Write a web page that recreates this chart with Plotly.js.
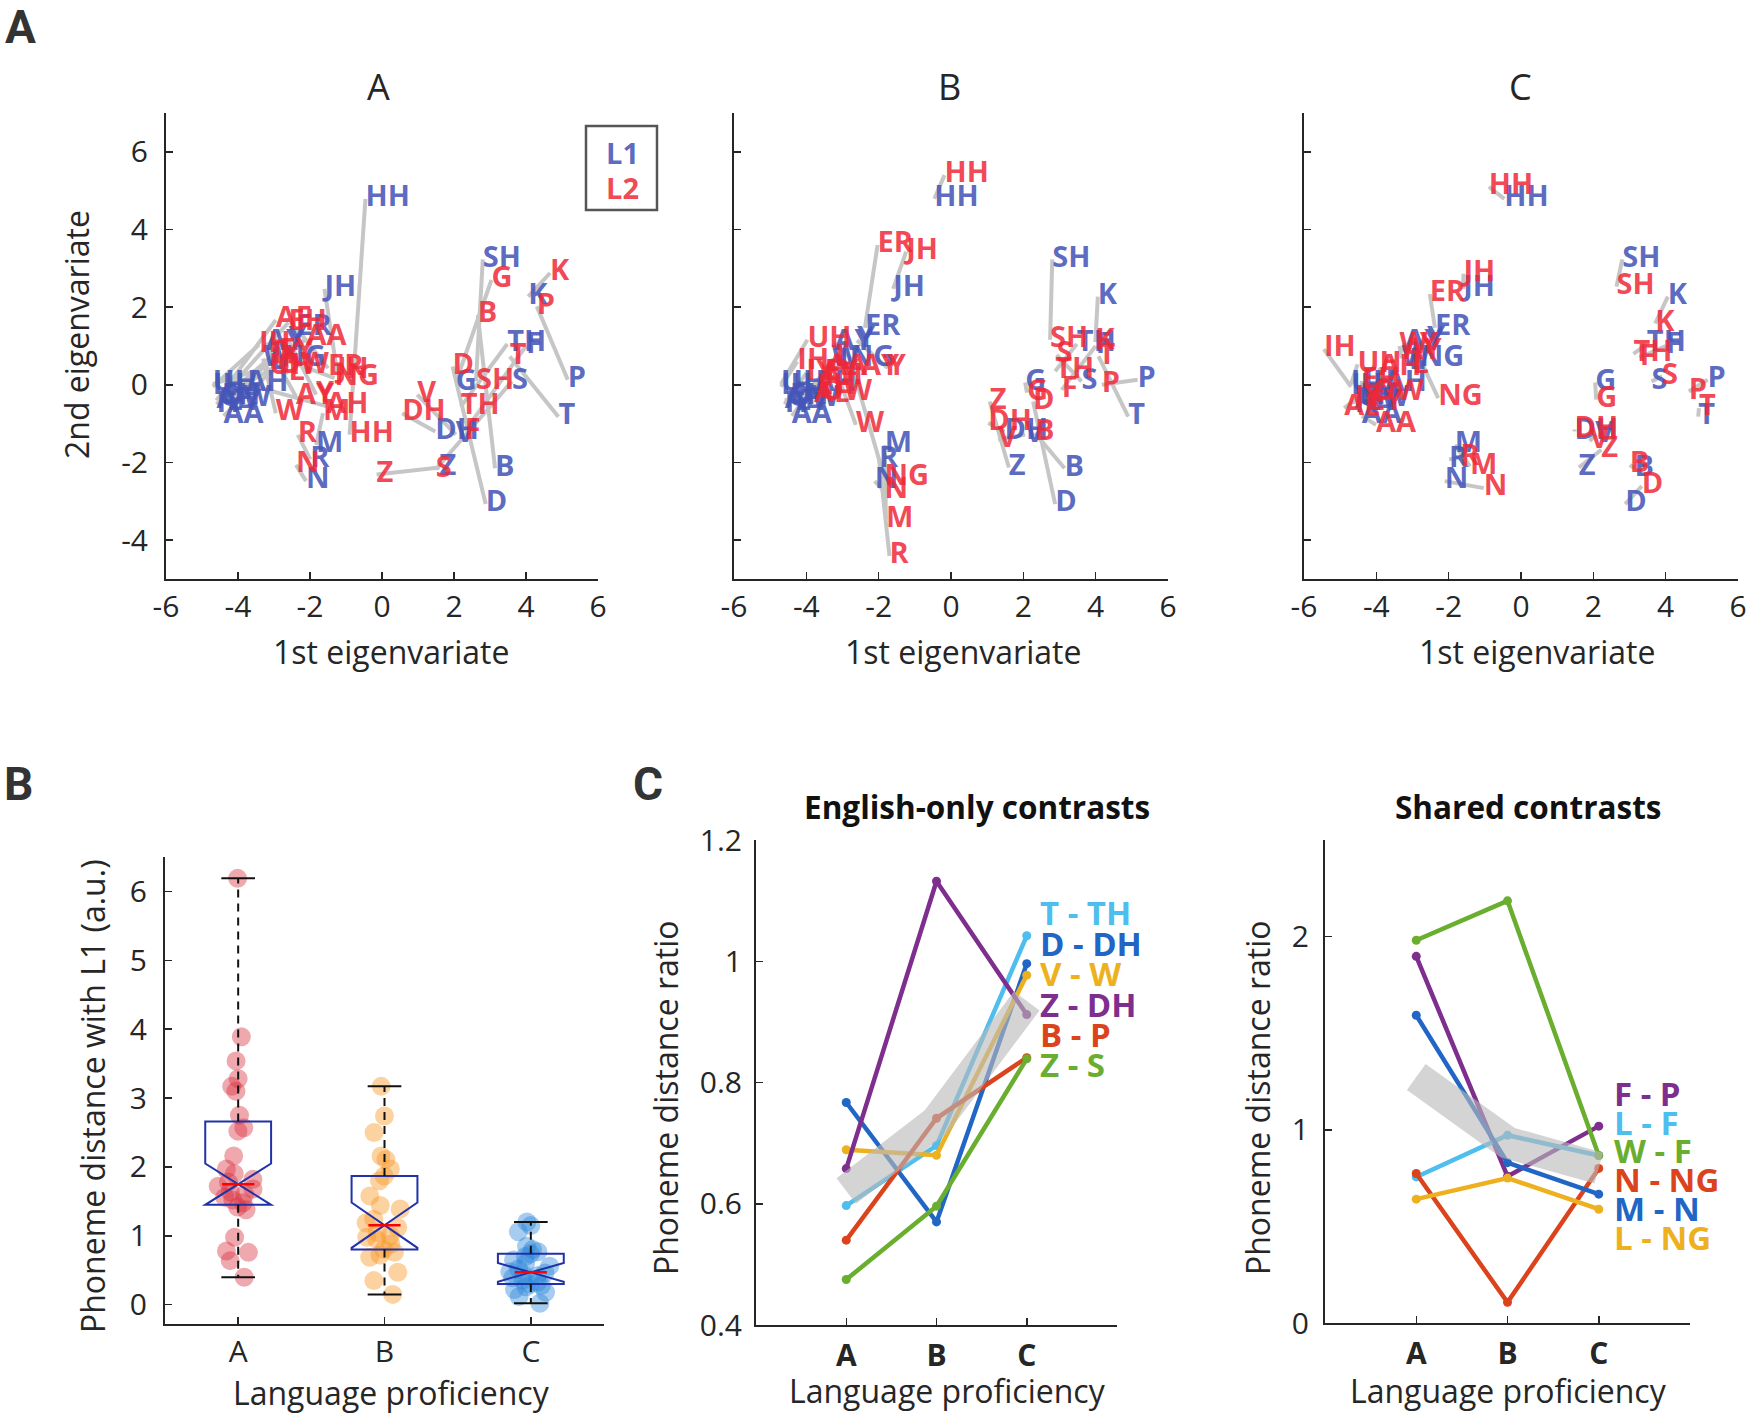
<!DOCTYPE html>
<html>
<head>
<meta charset="utf-8">
<script src="https://cdn.plot.ly/plotly-3.0.1.min.js"></script>
<style>
body { margin: 0; background: #fff; }
#graph { width: 1751px; height: 1413px; }
</style>
</head>
<body>
<div id="graph"></div>
<script>
var W = 1751, H = 1413;
var FONT = 'Open Sans, Noto Sans, sans-serif';
var INK = '#262626';

// ---- panel A: phoneme positions (1st / 2nd eigenvariate) ----
var phonemes = ['AA','AE','AH','AY','EH','ER','EY','IH','IY','OW','UH',
  'B','D','DH','F','G','HH','JH','K','L','M','N','NG','P','R','S','SH','T','TH','V','W','Y','Z'];

// native (L1) positions, same in all three proficiency groups
var l1X = [-4.4,-4.6,-3.77,-3.22,-4.45,-2.38,-4.3,-4.7,-4.6,-4.5,-4.7,
  3.14,2.88,1.48,4.0,2.05,-0.46,-1.6,4.06,-3.1,-1.83,-2.11,-2.8,5.16,-1.99,3.61,2.8,4.9,3.48,2.05,-3.3,-2.6,1.6];
var l1Y = [-0.8,-0.4,0.02,1.08,-0.3,1.47,-0.45,-0.05,-0.5,-0.35,0.02,
  -2.15,-3.07,-1.2,1.0,0.06,4.79,2.47,2.27,0.6,-1.55,-2.48,0.68,0.13,-1.92,0.09,3.23,-0.82,1.05,-1.28,0.68,1.15,-2.13];

// L2 positions, proficiency A
var l2XA = [-2.1,-2.95,-1.55,-2.39,-2.6,-1.5,-2.85,-3.42,-3.05,-2.9,-3.14,
  2.66,1.96,0.56,2.3,3.04,-0.9,-1.25,4.67,-2.6,-1.64,-2.39,-1.32,4.3,-2.34,1.49,2.61,3.55,2.19,0.98,-2.95,-1.83,-0.15];
var l2YA = [1.2,1.67,-0.55,-0.3,1.6,0.43,0.85,1.03,0.75,0.5,0.47,
  1.8,0.47,-0.73,-1.2,2.7,-1.28,0.35,2.88,0.3,-0.73,-2.06,0.17,2.02,-1.29,-2.18,0.09,0.73,-0.56,-0.25,-0.73,-0.25,-2.31];
// proficiency B
var l2XB = [-3.42,-3.79,-3.6,-2.49,-3.7,-2.03,-3.5,-4.25,-4.0,-3.6,-3.97,
  2.32,2.27,1.03,3.06,2.1,-0.18,-1.24,3.99,-3.2,-1.8,-1.84,-1.84,4.17,-1.7,2.92,2.74,4.08,2.88,1.3,-2.63,-1.75,1.07];
var l2YB = [0.43,-0.26,0.2,0.43,-0.05,3.6,0.3,0.6,0.3,-0.2,1.16,
  -1.24,-0.43,-0.98,-0.13,-0.2,5.4,3.43,1.1,0.7,-3.47,-2.74,-2.4,0.0,-4.41,0.77,1.16,0.73,0.35,-1.41,-1.03,0.43,-0.43];
// proficiency C
var l2XC = [-4.01,-4.89,-3.92,-3.25,-4.4,-2.52,-4.2,-5.45,-4.6,-4.1,-4.52,
  3.01,3.34,1.48,3.28,2.08,-0.89,-1.59,3.71,-3.0,-1.41,-1.03,-2.29,4.64,-1.68,3.9,2.64,4.92,3.11,1.9,-3.36,-2.8,2.22];
var l2YC = [-1.03,-0.6,0.45,0.85,0.1,2.34,-0.45,0.92,-0.35,-0.2,0.53,
  -2.06,-2.61,-1.15,0.7,-0.38,5.1,2.86,1.58,0.5,-2.1,-2.66,-0.34,-0.17,-1.87,0.22,2.53,-0.6,0.8,-1.45,1.0,1.0,-1.67];

// ---- panel B: phoneme distance with L1 per group ----
var groups = ['A','B','C'];
var distA = [6.19,3.89,3.54,3.28,3.17,3.10,2.75,2.57,2.52,2.16,1.97,1.90,1.82,1.78,1.72,1.68,1.64,1.60,1.56,1.52,1.48,1.42,1.38,0.98,0.78,0.76,0.64,0.40];
var distB = [3.17,2.74,2.50,2.16,2.11,1.97,1.87,1.80,1.58,1.44,1.39,1.24,1.19,1.12,1.05,1.00,0.98,0.95,0.88,0.80,0.76,0.72,0.69,0.47,0.35,0.15];
var distC = [1.20,1.15,1.06,0.85,0.80,0.77,0.74,0.70,0.65,0.60,0.56,0.52,0.48,0.46,0.44,0.42,0.39,0.36,0.33,0.30,0.28,0.26,0.22,0.18,0.12,0.02];

// ---- panel C: phoneme distance ratio ----
var levels = ['A','B','C'];
var enNames = ['T - TH','D - DH','V - W','Z - DH','B - P','Z - S'];
var enTTH = [0.597,0.696,1.042];
var enDDH = [0.767,0.570,0.996];
var enVW  = [0.689,0.680,0.977];
var enZDH = [0.658,1.132,0.912];
var enBP  = [0.540,0.741,0.841];
var enZS  = [0.475,0.596,0.839];
var shNames = ['F - P','L - F','W - F','N - NG','M - N','L - NG'];
var shFP  = [1.898,0.759,1.019];
var shLF  = [0.756,0.972,0.867];
var shWF  = [1.981,2.185,0.867];
var shNNG = [0.774,0.107,0.800];
var shMN  = [1.593,0.830,0.667];
var shLNG = [0.641,0.750,0.589];

var cLight = '#4DBEEE', cBlue = '#2166C5', cYellow = '#EDB120', cPurple = '#7E2F8E', cRed = '#DB431C', cGreen = '#69AE2E';
var enColors = [cLight, cBlue, cYellow, cPurple, cRed, cGreen];
var shColors = [cPurple, cLight, cGreen, cRed, cBlue, cYellow];

function px(x) { return x / W; }
function py(y) { return 1 - y / H; }

var traces = [];
var L1col = 'rgba(70,86,184,0.88)', L2col = 'rgba(240,40,55,0.86)';

function addEigen(xa, ya, l2x, l2y) {
  var lx = [], ly = [];
  phonemes.forEach(function (p, i) {
    lx.push(l1X[i], l2x[i], null);
    ly.push(l1Y[i], l2y[i], null);
  });
  traces.push({ x: lx, y: ly, mode: 'lines', xaxis: xa, yaxis: ya,
    line: { color: '#c6c6c6', width: 4 }, hoverinfo: 'skip' });
  traces.push({ x: l1X, y: l1Y, text: phonemes, mode: 'text', xaxis: xa, yaxis: ya,
    textposition: 'middle right', cliponaxis: false,
    textfont: { family: FONT, size: 29, weight: 700, color: L1col } });
  traces.push({ x: l2x, y: l2y, text: phonemes, mode: 'text', xaxis: xa, yaxis: ya,
    textposition: 'middle right', cliponaxis: false,
    textfont: { family: FONT, size: 29, weight: 700, color: L2col } });
}
addEigen('x', 'y', l2XA, l2YA);
addEigen('x2', 'y2', l2XB, l2YB);
addEigen('x3', 'y3', l2XC, l2YC);

// box stats, MATLAB-style quantiles
function quant(s, p) {
  var pos = s.length * p + 0.5; // 1-based
  if (pos <= 1) return s[0];
  if (pos >= s.length) return s[s.length - 1];
  var lo = Math.floor(pos), f = pos - lo;
  return s[lo - 1] + f * (s[lo] - s[lo - 1]);
}
var dists = [distA, distB, distC];
var pointCols = ['#D9303E', '#F79420', '#2B86D8'];
var stats = dists.map(function (d) {
  var s = d.slice().sort(function (a, b) { return a - b; });
  var q1 = quant(s, 0.25), med = quant(s, 0.5), q3 = quant(s, 0.75);
  var notch = 1.57 * (q3 - q1) / Math.sqrt(s.length);
  notch = Math.min(notch, med - q1, q3 - med);
  return { q1: q1, med: med, q3: q3, lo: s[0], hi: s[s.length - 1], notch: notch };
});

dists.forEach(function (d, g) {
  traces.push({ type: 'box', xaxis: 'x4', yaxis: 'y4', y: d, x: d.map(function () { return g + 1; }),
    boxpoints: 'all', jitter: 0.75, pointpos: 0, width: 0.45,
    marker: { color: pointCols[g], size: 19, opacity: 0.42 },
    line: { width: 0, color: 'rgba(0,0,0,0)' }, fillcolor: 'rgba(0,0,0,0)', hoverinfo: 'skip' });
});
traces.push({ type: 'box', xaxis: 'x4', yaxis: 'y4', x: [1, 2, 3],
  q1: stats.map(function (s) { return s.q1; }),
  median: stats.map(function (s) { return s.med; }),
  q3: stats.map(function (s) { return s.q3; }),
  lowerfence: stats.map(function (s) { return s.q1; }),
  upperfence: stats.map(function (s) { return s.q3; }),
  notchspan: stats.map(function (s) { return s.notch; }),
  notched: true, notchwidth: 0.5, width: 0.45, whiskerwidth: 0,
  boxpoints: false, fillcolor: 'rgba(0,0,0,0)', line: { color: '#2132A8', width: 2 }, hoverinfo: 'skip' });

var wx = [], wy = [], cx = [], cy = [], mx = [], my = [];
stats.forEach(function (s, g) {
  var p = g + 1;
  wx.push(p, p, null, p, p, null); wy.push(s.q3, s.hi, null, s.q1, s.lo, null);
  cx.push(p - 0.115, p + 0.115, null, p - 0.115, p + 0.115, null); cy.push(s.hi, s.hi, null, s.lo, s.lo, null);
  mx.push(p - 0.11, p + 0.11, null); my.push(s.med, s.med, null);
});
traces.push({ x: wx, y: wy, mode: 'lines', xaxis: 'x4', yaxis: 'y4', line: { color: '#111', width: 2, dash: '8px,6px' }, hoverinfo: 'skip' });
traces.push({ x: cx, y: cy, mode: 'lines', xaxis: 'x4', yaxis: 'y4', line: { color: '#111', width: 2 }, hoverinfo: 'skip' });
traces.push({ x: mx, y: my, mode: 'lines', xaxis: 'x4', yaxis: 'y4', line: { color: '#ff0000', width: 2.5 }, hoverinfo: 'skip' });

// panel C lines + gray mean band
var pos = levels.map(function (l, i) { return i + 1; });
function addRatio(xa, ya, series, colors) {
  series.forEach(function (v, i) {
    traces.push({ x: pos, y: v, mode: 'lines+markers', xaxis: xa, yaxis: ya,
      line: { color: colors[i], width: 4.5 }, marker: { color: colors[i], size: 9 }, hoverinfo: 'skip' });
  });
  var mean = pos.map(function (p, j) {
    return series.reduce(function (a, v) { return a + v[j]; }, 0) / series.length;
  });
  traces.push({ x: pos, y: mean, mode: 'lines', xaxis: xa, yaxis: ya,
    line: { color: 'rgba(185,185,185,0.62)', width: 32 }, hoverinfo: 'skip' });
}
addRatio('x5', 'y5', [enTTH, enDDH, enVW, enZDH, enBP, enZS], enColors);
addRatio('x6', 'y6', [shFP, shLF, shWF, shNNG, shMN, shLNG], shColors);

function axis(o) {
  return Object.assign({
    showline: true, linecolor: INK, linewidth: 2, ticks: 'inside', ticklen: 7, tickwidth: 1.5, tickcolor: INK,
    showgrid: false, zeroline: false, fixedrange: true,
    tickfont: { family: FONT, size: 30, color: INK }
  }, o);
}
var eigX = [-6, -4, -2, 0, 2, 4, 6], eigY = [-4, -2, 0, 2, 4, 6];
function eigXAxis(d0, d1, anchor) {
  return axis({ domain: [px(d0), px(d1)], anchor: anchor, range: [-6, 6], tickmode: 'array',
    tickvals: eigX, ticktext: eigX.map(String), ticklabelstandoff: 0 });
}
function eigYAxis(anchor, labels) {
  return axis({ domain: [py(579), py(113)], anchor: anchor, range: [-5, 7], tickmode: 'array',
    tickvals: eigY, ticktext: eigY.map(String), showticklabels: labels, ticklabelstandoff: 10 });
}
var lvlBold = levels.map(function (l) { return '<b>' + l + '</b>'; });

var layout = {
  width: W, height: H, margin: { l: 0, r: 0, t: 0, b: 0 },
  paper_bgcolor: '#fff', plot_bgcolor: 'rgba(0,0,0,0)', showlegend: false, boxmode: 'overlay',
  font: { family: FONT, color: INK },
  xaxis: eigXAxis(166, 598, 'y'), yaxis: eigYAxis('x', true),
  xaxis2: eigXAxis(734, 1168, 'y2'), yaxis2: eigYAxis('x2', false),
  xaxis3: eigXAxis(1304, 1738, 'y3'), yaxis3: eigYAxis('x3', false),
  xaxis4: axis({ domain: [px(165), px(604)], anchor: 'y4', range: [0.5, 3.5], tickmode: 'array',
    tickvals: [1, 2, 3], ticktext: groups, ticklabelstandoff: 0 }),
  yaxis4: axis({ domain: [py(1324), py(857)], anchor: 'x4', range: [-0.28, 6.5], tickmode: 'array',
    tickvals: [0, 1, 2, 3, 4, 5, 6], ticktext: ['0', '1', '2', '3', '4', '5', '6'], ticklabelstandoff: 10 }),
  xaxis5: axis({ domain: [px(756), px(1117)], anchor: 'y5', range: [0, 4], tickmode: 'array',
    tickvals: pos, ticktext: lvlBold, ticklabelstandoff: 3 }),
  yaxis5: axis({ domain: [py(1325), py(840)], anchor: 'x5', range: [0.4, 1.2], tickmode: 'array',
    tickvals: [0.4, 0.6, 0.8, 1, 1.2], ticktext: ['0.4', '0.6', '0.8', '1', '1.2'], ticklabelstandoff: 6 }),
  xaxis6: axis({ domain: [px(1325), px(1690)], anchor: 'y6', range: [0, 4], tickmode: 'array',
    tickvals: pos, ticktext: lvlBold, ticklabelstandoff: 3 }),
  yaxis6: axis({ domain: [py(1323), py(840)], anchor: 'x6', range: [0, 2.5], tickmode: 'array',
    tickvals: [0, 1, 2], ticktext: ['0', '1', '2'], ticklabelstandoff: 8 }),
  shapes: [{ type: 'rect', xref: 'paper', yref: 'paper', x0: px(586), x1: px(657), y0: py(210), y1: py(126),
    line: { color: '#555', width: 2.5 } }],
  annotations: []
};

function note(text, x, y, o) {
  layout.annotations.push(Object.assign({ text: text, x: px(x), y: py(y), xref: 'paper', yref: 'paper',
    showarrow: false, xanchor: 'center', yanchor: 'middle',
    font: { family: FONT, size: 32, color: INK } }, o || {}));
}
// panel letters
['A', 'B', 'C'].forEach(function (t, i) {
  var p = [[20, 27], [18, 784], [648, 784]][i];
  note(t, p[0], p[1], { font: { family: 'Roboto, ' + FONT, size: 46, weight: 700, color: '#333' } });
});
// panel A titles
groups.forEach(function (g, i) { note(g, [378, 949, 1520][i], 87, { font: { family: FONT, size: 36, color: INK } }); });
note('2nd eigenvariate', 76, 335, { textangle: -90 });
[391, 963, 1537].forEach(function (x) { note('1st eigenvariate', x, 651); });
note('L1', 622, 153, { font: { family: FONT, size: 29, weight: 700, color: L1col } });
note('L2', 622, 187, { font: { family: FONT, size: 29, weight: 700, color: L2col } });
// panel B
note('Phoneme distance with L1 (a.u.)', 92, 1096, { textangle: -90 });
note('Language proficiency', 391, 1392);
// panel C
note('<b>English-only contrasts</b>', 977, 806, { font: { family: FONT, size: 31.5, color: '#111' } });
note('<b>Shared contrasts</b>', 1528, 806, { font: { family: FONT, size: 31.5, color: '#111' } });
note('Phoneme distance ratio', 665, 1098, { textangle: -90 });
note('Phoneme distance ratio', 1257, 1098, { textangle: -90 });
note('Language proficiency', 947, 1390);
note('Language proficiency', 1508, 1390);
enNames.forEach(function (n, i) {
  layout.annotations.push({ text: '<b>' + n + '</b>', xref: 'x5', yref: 'y5', x: 3.13, y: 1.08 - i * 0.0502,
    xanchor: 'left', yanchor: 'middle', showarrow: false, font: { family: FONT, size: 33, color: enColors[i] } });
});
shNames.forEach(function (n, i) {
  layout.annotations.push({ text: '<b>' + n + '</b>', xref: 'x6', yref: 'y6', x: 3.14, y: 1.19 - i * 0.1498,
    xanchor: 'left', yanchor: 'middle', showarrow: false, font: { family: FONT, size: 33, color: shColors[i] } });
});

Plotly.newPlot('graph', traces, layout, { displayModeBar: false, staticPlot: true });
</script>
</body>
</html>
